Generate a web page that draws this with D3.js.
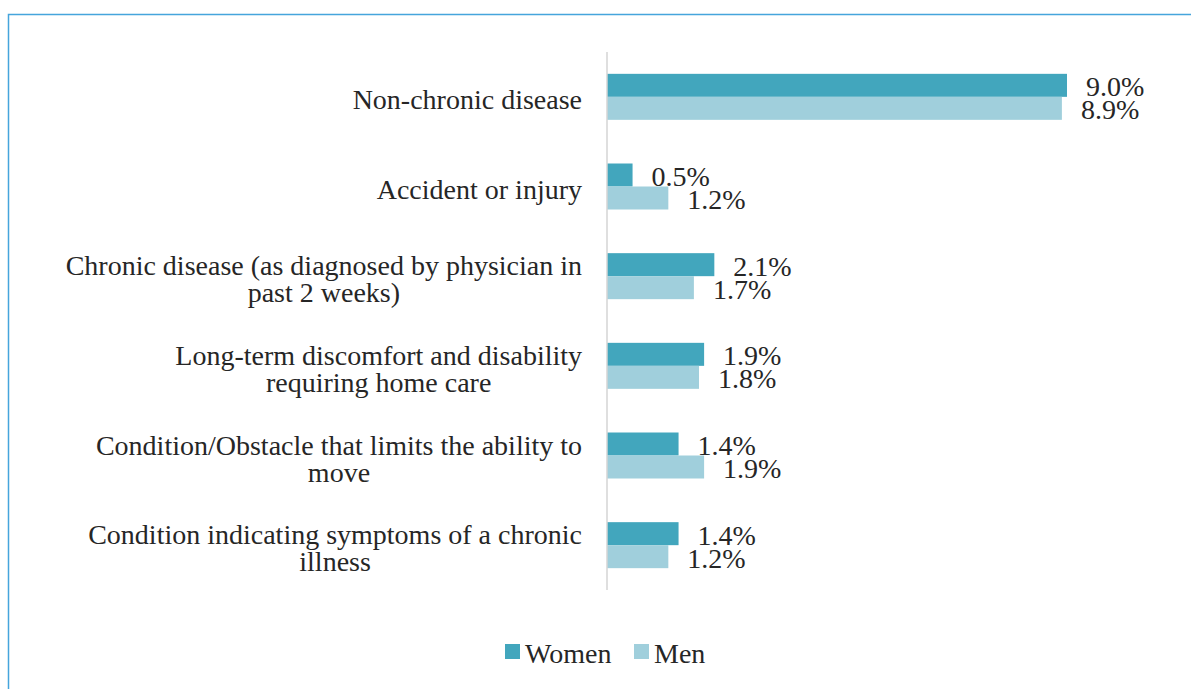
<!DOCTYPE html>
<html>
<head>
<meta charset="utf-8">
<script src="https://cdn.jsdelivr.net/npm/d3@7"></script>
<style>
  html, body { margin: 0; padding: 0; background: #fff; }
  svg { display: block; }
  text { font-family: "Liberation Serif", "Times New Roman", serif; fill: #262626; }
</style>
</head>
<body>
<svg id="chart" width="1191" height="689"></svg>
<script>
// Reasons for illness, share of population by sex (%)
const categories = [
  "Non-chronic disease",
  "Accident or injury",
  "Chronic disease (as diagnosed by physician in\npast 2 weeks)",
  "Long-term discomfort and disability\nrequiring home care",
  "Condition/Obstacle that limits the ability to\nmove",
  "Condition indicating symptoms of a chronic\nillness"
];
const women = [9.0, 0.5, 2.1, 1.9, 1.4, 1.4];
const men   = [8.9, 1.2, 1.7, 1.8, 1.9, 1.2];
const seriesNames = ["Women", "Men"];
const seriesColors = ["#42a6bd", "#a0cfdc"];

const svg = d3.select("#chart");

// panel frame
svg.append("rect")
  .attr("x", 8.5).attr("y", 14.5)
  .attr("width", 1200).attr("height", 700)
  .attr("fill", "none")
  .attr("stroke", "#45a5dc")
  .attr("stroke-width", 1.5);

const x0 = 607;
const x = d3.scaleLinear().domain([0, 9]).range([x0, x0 + 460]);
const y = d3.scaleBand().domain(d3.range(categories.length)).range([52, 590]).paddingInner(0.487).paddingOuter(0.2435);
const yInner = d3.scaleBand().domain(seriesNames).range([0, y.bandwidth()]);

const rows = categories.map((c, i) => ({ c, i, vals: [women[i], men[i]] }));

const g = svg.append("g");
const groups = g.selectAll("g.row").data(rows).join("g")
  .attr("class", "row")
  .attr("transform", d => `translate(0,${y(d.i)})`);

groups.selectAll("rect").data(d => d.vals.map((v, k) => ({ v, k }))).join("rect")
  .attr("x", x(0))
  .attr("y", d => yInner(seriesNames[d.k]))
  .attr("width", d => x(d.v) - x(0))
  .attr("height", yInner.bandwidth())
  .attr("fill", d => seriesColors[d.k]);

groups.selectAll("text.val").data(d => d.vals.map((v, k) => ({ v, k }))).join("text")
  .attr("class", "val")
  .attr("x", d => x(d.v) + 19)
  .attr("y", d => yInner(seriesNames[d.k]) + yInner.bandwidth() - 0.5)
  .attr("font-size", 28)
  .text(d => d.v.toFixed(1) + "%");

// category axis line
const yAxis = d3.axisLeft(d3.scaleBand().domain(categories).range(y.range()).paddingInner(0.487).paddingOuter(0.2435))
  .tickSize(0).tickFormat("");
const ax = svg.append("g").attr("transform", `translate(${x0},0)`).call(yAxis);
ax.select(".domain").attr("stroke", "#d4d4d4").attr("stroke-width", 1.5).attr("d", `M0,52V590`);

// category labels, multi-line blocks centred under their widest line, right edge at 582
const lineH = 27;
rows.forEach(d => {
  const lines = d.c.split("\n");
  const cy = y(d.i) + y.bandwidth() / 2;
  const t = svg.append("text")
    .attr("text-anchor", "middle")
    .attr("font-size", 28);
  const startY = cy + 12.5 - (lines.length - 1) * lineH / 2;
  lines.forEach((ln, j) => {
    t.append("tspan").attr("y", startY + j * lineH).text(ln);
  });
  const w = d3.max(t.selectAll("tspan").nodes(), n => n.getComputedTextLength());
  t.selectAll("tspan").attr("x", 582 - w / 2);
});

// legend
const legend = svg.append("g");
const legendX = [505, 634];
seriesNames.forEach((s, k) => {
  legend.append("rect").attr("x", legendX[k]).attr("y", 644).attr("width", 15).attr("height", 15).attr("fill", seriesColors[k]);
  legend.append("text").attr("x", legendX[k] + 20).attr("y", 663).attr("font-size", 28).text(s);
});
</script>
</body>
</html>
